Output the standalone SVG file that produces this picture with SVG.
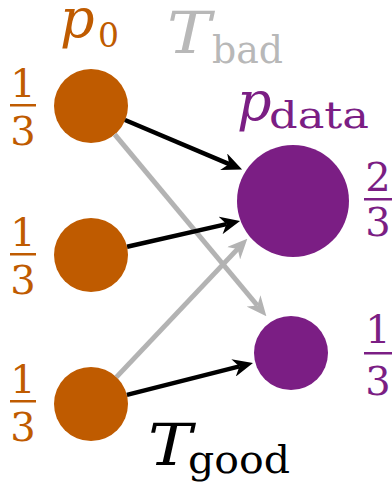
<svg xmlns="http://www.w3.org/2000/svg" width="392" height="486" viewBox="0 0 392 486">
<defs>
<style>
text{font-family:"DejaVu Serif","Liberation Serif","Times New Roman",serif}
.src{fill:#BF5B00}
.dst{fill:#7B1E84}
.ot{fill:#BF5B00}
.pt{fill:#7B1E84}
.gt{fill:#B8B8B8}
.it{font-style:italic}
.frac{font-size:40px;text-anchor:middle}
.blk{stroke:#000;stroke-width:4.5;fill:none}
.gry{stroke:#B3B3B3;stroke-width:5;fill:none}
</style>
<marker id="ab" viewBox="0 0 20 18" refX="6" refY="9" markerWidth="20" markerHeight="18" markerUnits="userSpaceOnUse" orient="auto">
<path d="M0,0 L20,9 L0,18 L6,9 z" fill="#000"/>
</marker>
<marker id="ag" viewBox="0 0 20 18" refX="6" refY="9" markerWidth="20" markerHeight="18" markerUnits="userSpaceOnUse" orient="auto">
<path d="M0,0 L20,9 L0,18 L6,9 z" fill="#B3B3B3"/>
</marker>
</defs>

<g id="labels">
<text class="ot it" x="60" y="37" font-size="54">p</text>
<text class="ot" x="98" y="47" font-size="33">0</text>
<text class="gt it" x="167" y="53" font-size="58" textLength="44" lengthAdjust="spacingAndGlyphs">T</text>
<text class="gt" x="212" y="63" font-size="40" textLength="71" lengthAdjust="spacingAndGlyphs">bad</text>
<text class="pt it" x="237" y="120" font-size="54">p</text>
<text class="pt" x="269" y="128" font-size="38" textLength="100" lengthAdjust="spacingAndGlyphs">data</text>
<text class="it" x="148" y="465" font-size="58" textLength="44" lengthAdjust="spacingAndGlyphs">T</text>
<text x="188" y="473" font-size="40" textLength="102" lengthAdjust="spacingAndGlyphs">good</text>
</g>

<g id="src1">
<circle class="src" cx="91" cy="106" r="37"/>
<g class="ot"><text class="frac" x="23" y="97">1</text><rect x="10" y="104" width="26" height="2.5"/><text class="frac" x="23" y="145">3</text></g>
</g>
<g id="src2">
<circle class="src" cx="91" cy="255" r="37"/>
<g class="ot"><text class="frac" x="23" y="246">1</text><rect x="10" y="253" width="26" height="2.5"/><text class="frac" x="23" y="294">3</text></g>
</g>
<g id="src3">
<circle class="src" cx="91" cy="404" r="37"/>
<g class="ot"><text class="frac" x="23" y="393">1</text><rect x="10" y="400" width="26" height="2.5"/><text class="frac" x="23" y="441">3</text></g>
</g>
<g id="dst1">
<circle class="dst" cx="293" cy="201" r="56"/>
<g class="pt"><text class="frac" x="378" y="191">2</text><rect x="364" y="198" width="28" height="2.5"/><text class="frac" x="378" y="236">3</text></g>
</g>
<g id="dst2">
<circle class="dst" cx="291" cy="353" r="37"/>
<g class="pt"><text class="frac" x="378" y="343">1</text><rect x="364" y="352" width="28" height="2.5"/><text class="frac" x="378" y="395">3</text></g>
</g>

<g id="connectors">
<line class="gry" x1="114.7" y1="134.4" x2="257.4" y2="305.5" marker-end="url(#ag)"/>
<line class="gry" x1="116.4" y1="377.1" x2="237.7" y2="248.9" marker-end="url(#ag)"/>
<line class="blk" x1="125" y1="120" x2="229.2" y2="164.1" marker-end="url(#ab)"/>
<line class="blk" x1="127.1" y1="246.8" x2="226.4" y2="224.1" marker-end="url(#ab)"/>
<line class="blk" x1="126.9" y1="394.9" x2="239.4" y2="366.4" marker-end="url(#ab)"/>
</g>
</svg>
